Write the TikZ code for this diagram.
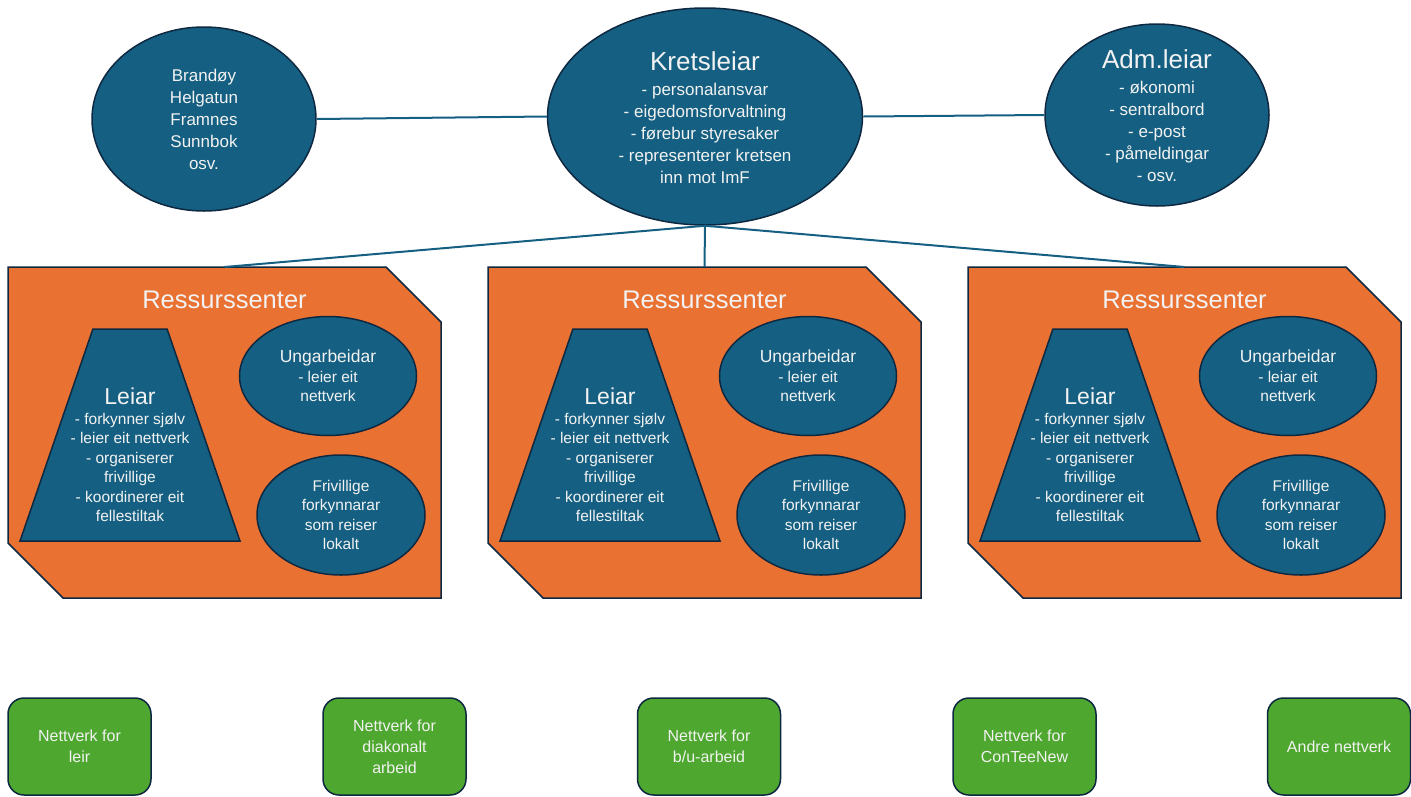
\documentclass[tikz,border=0pt]{standalone}
\usepackage{fontspec}
\setmainfont{Liberation Sans}
\usetikzlibrary{shapes.geometric}
\definecolor{imfteal}{HTML}{156082}
\definecolor{imfnavy}{HTML}{0E2841}
\definecolor{imforange}{HTML}{E97132}
\definecolor{imfgreen}{HTML}{4EA72E}
\definecolor{imftext}{HTML}{F2F2F2}
\tikzset{
	blob/.style={ellipse, draw=imfnavy, fill=imfteal, line width=1.5pt, inner sep=0pt},
	blobtext/.style={text=imftext, align=center, font=\fontsize{17}{22}\selectfont},
	innertext/.style={text=imftext, align=center, font=\fontsize{15.5}{19.5}\selectfont},
	headtext/.style={text=imftext, font=\fontsize{25.5}{28}\selectfont},
	wire/.style={draw=imfteal, line width=2pt},
	centrebox/.style={draw=imfnavy, fill=imforange, line width=1.5pt, line join=miter},
	leader/.style={trapezium, trapezium left angle=76.2, trapezium right angle=76.2, trapezium stretches=true,
		minimum width=220pt, minimum height=212pt, draw=imfnavy, fill=imfteal, line width=1.5pt, inner sep=2pt},
	netbox/.style={rectangle, rounded corners=16pt, draw=imfnavy, fill=imfgreen, line width=1.5pt,
		minimum width=143pt, minimum height=97pt, text=imftext, align=center, font=\fontsize{16}{21}\selectfont}
}
\begin{document}
\begin{tikzpicture}[x=1pt,y=-1pt]
	\useasboundingbox (0,0) rectangle (1411,796);
	% top row
	\node[blob, minimum width=224pt, minimum height=184pt] (lokal) at (204,119) {};
	\node[blobtext] (lokaltxt) at (lokal.center) {Brandøy\\Helgatun\\Framnes\\Sunnbok\\osv.};
	\node[blob, minimum width=315pt, minimum height=217pt] (krets) at (705,116.5) {};
	\node[blobtext] (kretstxt) at (705,118) {{\fontsize{26}{30}\selectfont Kretsleiar}\\[3pt]- personalansvar\\- eigedomsforvaltning\\- førebur styresaker\\- representerer kretsen\\inn mot ImF};
	\node[blob, minimum width=224pt, minimum height=182pt] (adm) at (1157,115) {};
	\node[blobtext] (admtxt) at (1157,116) {{\fontsize{26}{30}\selectfont Adm.leiar}\\[3pt]- økonomi\\- sentralbord\\- e-post\\- påmeldingar\\- osv.};
	\draw[wire] (lokal.east) -- (krets.west); %left
	\draw[wire] (krets.east) -- (adm.west); %right

	% ressurssenter 1
	\draw[centrebox] (8,267) -- (386,267) -- (441,322) -- (441,598) -- (63,598) -- (8,543) -- cycle;
	\coordinate (rs1) at (224.5,267);
	\node[headtext] (rs1head) at (224.5,300) {Ressurssenter};
	\node[leader] (leiar1) at (130,435) {\strut};
	\node[innertext] (leiar1txt) at (130,455) {{\fontsize{23}{26}\selectfont Leiar}\\- forkynner sjølv\\- leier eit nettverk\\- organiserer\\frivillige\\- koordinerer eit\\fellestiltak};
	\node[blob, innertext, minimum width=177pt, minimum height=119pt] (ung1) at (328,376) {{\fontsize{17.5}{21}\selectfont Ungarbeidar}\\- leier eit\\nettverk};
	\node[blob, innertext, minimum width=168pt, minimum height=120pt] (friv1) at (341,515) {Frivillige\\forkynnarar\\som reiser\\lokalt};

	% ressurssenter 2
	\draw[centrebox] (488,267) -- (866,267) -- (921,322) -- (921,598) -- (543,598) -- (488,543) -- cycle;
	\coordinate (rs2) at (704.5,267);
	\node[headtext] (rs2head) at (704.5,300) {Ressurssenter};
	\node[leader] (leiar2) at (610,435) {\strut};
	\node[innertext] (leiar2txt) at (610,455) {{\fontsize{23}{26}\selectfont Leiar}\\- forkynner sjølv\\- leier eit nettverk\\- organiserer\\frivillige\\- koordinerer eit\\fellestiltak};
	\node[blob, innertext, minimum width=177pt, minimum height=119pt] (ung2) at (808,376) {{\fontsize{17.5}{21}\selectfont Ungarbeidar}\\- leier eit\\nettverk};
	\node[blob, innertext, minimum width=168pt, minimum height=120pt] (friv2) at (821,515) {Frivillige\\forkynnarar\\som reiser\\lokalt};

	% ressurssenter 3
	\draw[centrebox] (968,267) -- (1346,267) -- (1401,322) -- (1401,598) -- (1023,598) -- (968,543) -- cycle;
	\coordinate (rs3) at (1184.5,267);
	\node[headtext] (rs3head) at (1184.5,300) {Ressurssenter};
	\node[leader] (leiar3) at (1090,435) {\strut};
	\node[innertext] (leiar3txt) at (1090,455) {{\fontsize{23}{26}\selectfont Leiar}\\- forkynner sjølv\\- leier eit nettverk\\- organiserer\\frivillige\\- koordinerer eit\\fellestiltak};
	\node[blob, innertext, minimum width=177pt, minimum height=119pt] (ung3) at (1288,376) {{\fontsize{17.5}{21}\selectfont Ungarbeidar}\\- leiar eit\\nettverk};
	\node[blob, innertext, minimum width=168pt, minimum height=120pt] (friv3) at (1301,515) {Frivillige\\forkynnarar\\som reiser\\lokalt};

	\draw[wire] (krets.south) -- (rs1);
	\draw[wire] (krets.south) -- (rs2);
	\draw[wire] (krets.south) -- (rs3);

	% nettverk
	\node[netbox] (net1) at (79.5,746.5) {Nettverk for\\leir};
	\node[netbox] (net2) at (394.5,746.5) {Nettverk for\\diakonalt\\arbeid};
	\node[netbox] (net3) at (709,746.5) {Nettverk for\\b/u-arbeid};
	\node[netbox] (net4) at (1024.5,746.5) {Nettverk for\\ConTeeNew};
	\node[netbox] (net5) at (1339,746.5) {Andre nettverk};
\end{tikzpicture}
\end{document}
